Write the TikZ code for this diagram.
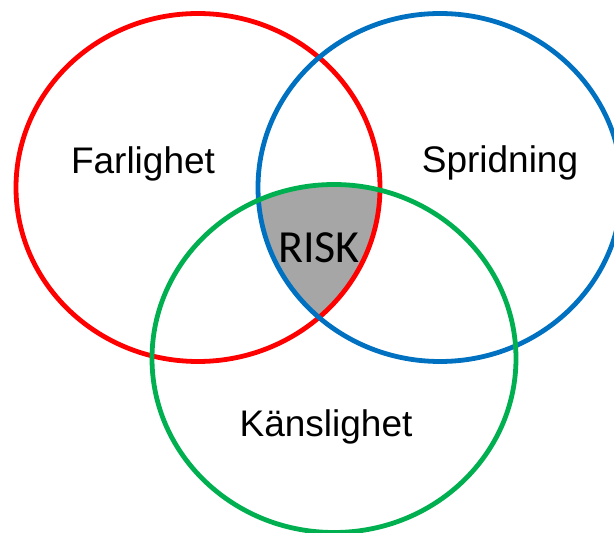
\documentclass[tikz,border=0pt]{standalone}
\usepackage{fontspec}
\setmainfont{Liberation Sans}
\newfontfamily\riskfont{Carlito}
\definecolor{farred}{RGB}{255,0,0}
\definecolor{sprblue}{RGB}{0,112,192}
\definecolor{kangreen}{RGB}{0,176,80}
\definecolor{riskgray}{RGB}{166,166,166}
\begin{document}
\begin{tikzpicture}[x=1pt,y=1pt,
  ring/.style={line width=4.8pt},
  label/.style={anchor=base,font=\fontsize{37}{40}\selectfont},
  risklabel/.style={anchor=base,font=\riskfont\fontsize{46}{49}\selectfont}]
\useasboundingbox (0,0) rectangle (614,533);
\coordinate (cF) at (198,345.5);
\coordinate (cS) at (440,345.5);
\coordinate (cK) at (334,174.5);
\def\rx{182}
\def\ry{174}
% common area of the three sets
\begin{scope}
  \clip (cF) ellipse [x radius=\rx, y radius=\ry];
  \clip (cS) ellipse [x radius=\rx, y radius=\ry];
  \fill[riskgray] (cK) ellipse [x radius=\rx, y radius=\ry];
\end{scope}
% the three sets
\draw[ring,farred] (cF) ellipse [x radius=\rx, y radius=\ry];
\draw[ring,sprblue] (cS) ellipse [x radius=\rx, y radius=\ry];
\draw[ring,kangreen] (cK) ellipse [x radius=\rx, y radius=\ry];
% labels
\node[label] (far) at (143,359) {Farlighet};
\node[label] (spr) at (500,360) {Spridning};
\node[label] (kan) at (326,96) {Känslighet};
\node[risklabel] (risk) at (319,270) {RISK};
\end{tikzpicture}
\end{document}
